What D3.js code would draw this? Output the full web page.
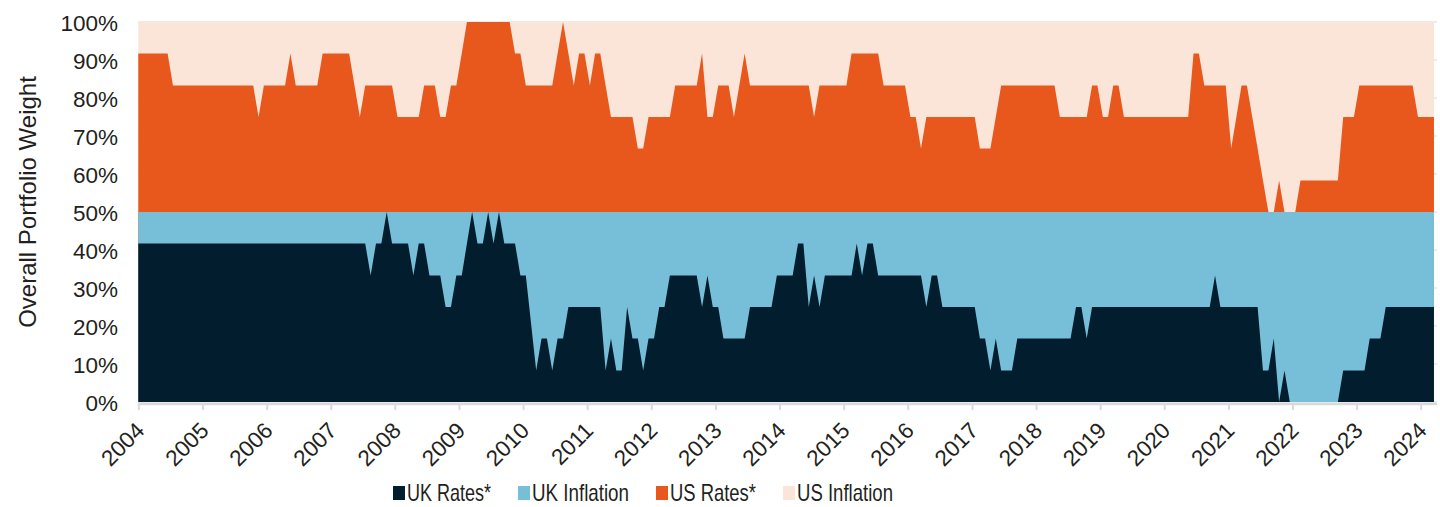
<!DOCTYPE html>
<html>
<head>
<meta charset="utf-8">
<script src="https://cdn.jsdelivr.net/npm/d3@7"></script>
<style>
body { margin: 0; background: #fff; }
svg { display: block; font-family: "Liberation Sans", Arial, sans-serif; }
</style>
</head>
<body>
<svg id="graphique" width="1440" height="507"></svg>
<script>
"use strict";

// DONNÉES (poids mensuels en %, janvier 2004 - mars 2024)

var annees = [2004, 2005, 2006, 2007, 2008, 2009, 2010, 2011, 2012, 2013, 2014,
	2015, 2016, 2017, 2018, 2019, 2020, 2021, 2022, 2023, 2024];
var pourcents = [0, 10, 20, 30, 40, 50, 60, 70, 80, 90, 100];
var series = ["UK Rates*", "UK Inflation", "US Rates*", "US Inflation"];

var ukRates = [
	41.7, 41.7, 41.7, 41.7, 41.7, 41.7, 41.7, 41.7, 41.7, 41.7, 41.7, 41.7,
	41.7, 41.7, 41.7, 41.7, 41.7, 41.7, 41.7, 41.7, 41.7, 41.7, 41.7, 41.7,
	41.7, 41.7, 41.7, 41.7, 41.7, 41.7, 41.7, 41.7, 41.7, 41.7, 41.7, 41.7,
	41.7, 41.7, 41.7, 41.7, 41.7, 41.7, 41.7, 33.3, 41.7, 41.7, 50, 41.7,
	41.7, 41.7, 41.7, 33.3, 41.7, 41.7, 33.3, 33.3, 33.3, 25, 25, 33.3,
	33.3, 41.7, 50, 41.7, 41.7, 50, 41.7, 50, 41.7, 41.7, 41.7, 33.3,
	33.3, 20.8, 8.3, 16.7, 16.7, 8.3, 16.7, 16.7, 25, 25, 25, 25,
	25, 25, 25, 8.3, 16.7, 8.3, 8.3, 25, 16.7, 16.7, 8.3, 16.7,
	16.7, 25, 25, 33.3, 33.3, 33.3, 33.3, 33.3, 33.3, 25, 33.3, 25,
	25, 16.7, 16.7, 16.7, 16.7, 16.7, 25, 25, 25, 25, 25, 33.3,
	33.3, 33.3, 33.3, 41.7, 41.7, 25, 33.3, 25, 33.3, 33.3, 33.3, 33.3,
	33.3, 33.3, 41.7, 33.3, 41.7, 41.7, 33.3, 33.3, 33.3, 33.3, 33.3, 33.3,
	33.3, 33.3, 33.3, 25, 33.3, 33.3, 25, 25, 25, 25, 25, 25,
	25, 16.7, 16.7, 8.3, 16.7, 8.3, 8.3, 8.3, 16.7, 16.7, 16.7, 16.7,
	16.7, 16.7, 16.7, 16.7, 16.7, 16.7, 16.7, 25, 25, 16.7, 25, 25,
	25, 25, 25, 25, 25, 25, 25, 25, 25, 25, 25, 25,
	25, 25, 25, 25, 25, 25, 25, 25, 25, 33.3, 25, 25,
	25, 25, 25, 25, 25, 25, 8.3, 8.3, 16.7, 0, 8.3, 0,
	0, 0, 0, 0, 0, 0, 0, 0, 0, 8.3, 8.3, 8.3,
	8.3, 8.3, 16.7, 16.7, 16.7, 25, 25, 25, 25, 25, 25, 25,
	25, 25, 25
];

var ukInflation = [
	8.3, 8.3, 8.3, 8.3, 8.3, 8.3, 8.3, 8.3, 8.3, 8.3, 8.3, 8.3,
	8.3, 8.3, 8.3, 8.3, 8.3, 8.3, 8.3, 8.3, 8.3, 8.3, 8.3, 8.3,
	8.3, 8.3, 8.3, 8.3, 8.3, 8.3, 8.3, 8.3, 8.3, 8.3, 8.3, 8.3,
	8.3, 8.3, 8.3, 8.3, 8.3, 8.3, 8.3, 16.7, 8.3, 8.3, 0, 8.3,
	8.3, 8.3, 8.3, 16.7, 8.3, 8.3, 16.7, 16.7, 16.7, 25, 25, 16.7,
	16.7, 8.3, 0, 8.3, 8.3, 0, 8.3, 0, 8.3, 8.3, 8.3, 16.7,
	16.7, 29.2, 41.7, 33.3, 33.3, 41.7, 33.3, 33.3, 25, 25, 25, 25,
	25, 25, 25, 41.7, 33.3, 41.7, 41.7, 25, 33.3, 33.3, 41.7, 33.3,
	33.3, 25, 25, 16.7, 16.7, 16.7, 16.7, 16.7, 16.7, 25, 16.7, 25,
	25, 33.3, 33.3, 33.3, 33.3, 33.3, 25, 25, 25, 25, 25, 16.7,
	16.7, 16.7, 16.7, 8.3, 8.3, 25, 16.7, 25, 16.7, 16.7, 16.7, 16.7,
	16.7, 16.7, 8.3, 16.7, 8.3, 8.3, 16.7, 16.7, 16.7, 16.7, 16.7, 16.7,
	16.7, 16.7, 16.7, 25, 16.7, 16.7, 25, 25, 25, 25, 25, 25,
	25, 33.3, 33.3, 41.7, 33.3, 41.7, 41.7, 41.7, 33.3, 33.3, 33.3, 33.3,
	33.3, 33.3, 33.3, 33.3, 33.3, 33.3, 33.3, 25, 25, 33.3, 25, 25,
	25, 25, 25, 25, 25, 25, 25, 25, 25, 25, 25, 25,
	25, 25, 25, 25, 25, 25, 25, 25, 25, 16.7, 25, 25,
	25, 25, 25, 25, 25, 25, 41.7, 41.7, 33.3, 50, 41.7, 50,
	50, 50, 50, 50, 50, 50, 50, 50, 50, 41.7, 41.7, 41.7,
	41.7, 41.7, 33.3, 33.3, 33.3, 25, 25, 25, 25, 25, 25, 25,
	25, 25, 25
];

var usRates = [
	41.7, 41.7, 41.7, 41.7, 41.7, 41.7, 33.3, 33.3, 33.3, 33.3, 33.3, 33.3,
	33.3, 33.3, 33.3, 33.3, 33.3, 33.3, 33.3, 33.3, 33.3, 33.3, 25, 33.3,
	33.3, 33.3, 33.3, 33.3, 41.7, 33.3, 33.3, 33.3, 33.3, 33.3, 41.7, 41.7,
	41.7, 41.7, 41.7, 41.7, 33.3, 25, 33.3, 33.3, 33.3, 33.3, 33.3, 33.3,
	25, 25, 25, 25, 25, 33.3, 33.3, 33.3, 25, 25, 33.3, 33.3,
	41.7, 50, 50, 50, 50, 50, 50, 50, 50, 50, 41.7, 41.7,
	33.3, 33.3, 33.3, 33.3, 33.3, 33.3, 41.7, 50, 41.7, 33.3, 41.7, 41.7,
	33.3, 41.7, 41.7, 33.3, 25, 25, 25, 25, 25, 16.7, 16.7, 25,
	25, 25, 25, 25, 33.3, 33.3, 33.3, 33.3, 33.3, 41.7, 25, 25,
	33.3, 33.3, 33.3, 25, 33.3, 41.7, 33.3, 33.3, 33.3, 33.3, 33.3, 33.3,
	33.3, 33.3, 33.3, 33.3, 33.3, 33.3, 25, 33.3, 33.3, 33.3, 33.3, 33.3,
	33.3, 41.7, 41.7, 41.7, 41.7, 41.7, 41.7, 33.3, 33.3, 33.3, 33.3, 33.3,
	25, 25, 16.7, 25, 25, 25, 25, 25, 25, 25, 25, 25,
	25, 16.7, 16.7, 16.7, 25, 33.3, 33.3, 33.3, 33.3, 33.3, 33.3, 33.3,
	33.3, 33.3, 33.3, 33.3, 25, 25, 25, 25, 25, 25, 33.3, 33.3,
	25, 25, 33.3, 33.3, 25, 25, 25, 25, 25, 25, 25, 25,
	25, 25, 25, 25, 25, 41.7, 41.7, 33.3, 33.3, 33.3, 33.3, 33.3,
	16.7, 25, 33.3, 33.3, 25, 16.7, 8.3, 0, 0, 8.3, 0, 0,
	0, 8.3, 8.3, 8.3, 8.3, 8.3, 8.3, 8.3, 8.3, 25, 25, 25,
	33.3, 33.3, 33.3, 33.3, 33.3, 33.3, 33.3, 33.3, 33.3, 33.3, 33.3, 25,
	25, 25, 25
];

var usInflation = [
	8.3, 8.3, 8.3, 8.3, 8.3, 8.3, 16.7, 16.7, 16.7, 16.7, 16.7, 16.7,
	16.7, 16.7, 16.7, 16.7, 16.7, 16.7, 16.7, 16.7, 16.7, 16.7, 25, 16.7,
	16.7, 16.7, 16.7, 16.7, 8.3, 16.7, 16.7, 16.7, 16.7, 16.7, 8.3, 8.3,
	8.3, 8.3, 8.3, 8.3, 16.7, 25, 16.7, 16.7, 16.7, 16.7, 16.7, 16.7,
	25, 25, 25, 25, 25, 16.7, 16.7, 16.7, 25, 25, 16.7, 16.7,
	8.3, 0, 0, 0, 0, 0, 0, 0, 0, 0, 8.3, 8.3,
	16.7, 16.7, 16.7, 16.7, 16.7, 16.7, 8.3, 0, 8.3, 16.7, 8.3, 8.3,
	16.7, 8.3, 8.3, 16.7, 25, 25, 25, 25, 25, 33.3, 33.3, 25,
	25, 25, 25, 25, 16.7, 16.7, 16.7, 16.7, 16.7, 8.3, 25, 25,
	16.7, 16.7, 16.7, 25, 16.7, 8.3, 16.7, 16.7, 16.7, 16.7, 16.7, 16.7,
	16.7, 16.7, 16.7, 16.7, 16.7, 16.7, 25, 16.7, 16.7, 16.7, 16.7, 16.7,
	16.7, 8.3, 8.3, 8.3, 8.3, 8.3, 8.3, 16.7, 16.7, 16.7, 16.7, 16.7,
	25, 25, 33.3, 25, 25, 25, 25, 25, 25, 25, 25, 25,
	25, 33.3, 33.3, 33.3, 25, 16.7, 16.7, 16.7, 16.7, 16.7, 16.7, 16.7,
	16.7, 16.7, 16.7, 16.7, 25, 25, 25, 25, 25, 25, 16.7, 16.7,
	25, 25, 16.7, 16.7, 25, 25, 25, 25, 25, 25, 25, 25,
	25, 25, 25, 25, 25, 8.3, 8.3, 16.7, 16.7, 16.7, 16.7, 16.7,
	33.3, 25, 16.7, 16.7, 25, 33.3, 41.7, 50, 50, 41.7, 50, 50,
	50, 41.7, 41.7, 41.7, 41.7, 41.7, 41.7, 41.7, 41.7, 25, 25, 25,
	16.7, 16.7, 16.7, 16.7, 16.7, 16.7, 16.7, 16.7, 16.7, 16.7, 16.7, 25,
	25, 25, 25
];


// MISE EN PAGE

var couleurs = ["#011d2e", "#77bfd8", "#e8571b", "#fbe5d8"];
var cles = ["ukR", "ukI", "usR", "usI"];
var gris = "#d9d9d9";
var encre = "#231f20";

var mois = d3.timeMonth.range(new Date(2004, 0, 1), new Date(2024, 3, 1)); // 243 mois

var table = mois.map((m, i) => ({
	mois: m,
	ukR: ukRates[i],
	ukI: ukInflation[i],
	usR: usRates[i],
	usI: usInflation[i]
}));

var x = d3.scaleTime()
.domain([new Date(2004, 0, 1), new Date(2024, 0, 1)])
.range([138.3, 1420.7]);

var y = d3.scaleLinear()
.domain([0, 100])
.range([402, 22]);

// chaque valeur au milieu de son mois, la première collée à l'origine
var xMois = (m, i) => i === 0 ? x(m) : (x(m) + x(d3.timeMonth.offset(m, 1))) / 2;

var svg = d3.select("#graphique");

// grille horizontale
svg.append("g")
.attr("class", "grille")
.selectAll("line")
.data(pourcents)
.enter()
	.append("line")
	.attr("x1", 138)
	.attr("x2", 1437)
	.attr("y1", d => y(d))
	.attr("y2", d => y(d))
	.attr("stroke", gris)
	.attr("stroke-width", 1.2);

// aires empilées, dessinées en cumul du haut vers le bas (pas de jointures visibles)
var pile = d3.stack().keys(cles)(table);

var aire = d3.area()
.x((d, i) => xMois(d.data.mois, i))
.y0(y(0))
.y1(d => y(d[1]));

svg.append("g")
.attr("class", "aires")
.selectAll("path")
.data(pile.slice().reverse())
.enter()
	.append("path")
	.attr("d", aire)
	.attr("fill", d => couleurs[d.index]);

// axe des x
var axeX = svg.append("g")
.attr("class", "x axis")
.attr("transform", "translate(0,404)")
.call(d3.axisBottom(x)
	.tickValues(annees.map(a => new Date(a, 0, 1)))
	.tickFormat(d3.timeFormat("%Y"))
	.tickSize(6)
	.tickSizeOuter(0));

axeX.select(".domain").remove();
axeX.insert("line", ":first-child")
.attr("x1", 138)
.attr("x2", 1437)
.attr("stroke", gris)
.attr("stroke-width", 2.5);

axeX.selectAll(".tick line")
.attr("stroke", gris)
.attr("stroke-width", 2);

axeX.selectAll(".tick text")
.attr("x", null)
.attr("y", null)
.attr("dy", null)
.attr("transform", "translate(7,28) rotate(-45)")
.attr("text-anchor", "end")
.attr("fill", encre)
.style("font-size", "22.5px");

// axe des y (libellés seuls)
svg.append("g")
.attr("class", "y axis")
.selectAll("text")
.data(pourcents)
.enter()
	.append("text")
	.attr("x", 118)
	.attr("y", d => y(d) + 1)
	.attr("text-anchor", "end")
	.attr("dominant-baseline", "central")
	.attr("fill", encre)
	.style("font-size", "22.5px")
	.text(d => d + "%");

svg.append("text")
.attr("transform", "translate(27,202) rotate(-90)")
.attr("text-anchor", "middle")
.attr("dominant-baseline", "central")
.attr("fill", encre)
.style("font-size", "24px")
.text("Overall Portfolio Weight");

// légende
var legendeX = [393, 518, 656, 783];
var legendeL = [84, 97, 86, 96];

var legende = svg.append("g")
.attr("class", "legende")
.selectAll("g")
.data(series)
.enter()
	.append("g")
	.attr("transform", (d, i) => "translate(" + legendeX[i] + ",0)");

legende.append("rect")
.attr("x", 0)
.attr("y", 486)
.attr("width", 12)
.attr("height", 14)
.attr("fill", (d, i) => couleurs[i]);

legende.append("text")
.attr("x", 14)
.attr("y", 501)
.attr("textLength", (d, i) => legendeL[i])
.attr("lengthAdjust", "spacingAndGlyphs")
.attr("fill", encre)
.style("font-size", "24px")
.text(d => d);
</script>
</body>
</html>
